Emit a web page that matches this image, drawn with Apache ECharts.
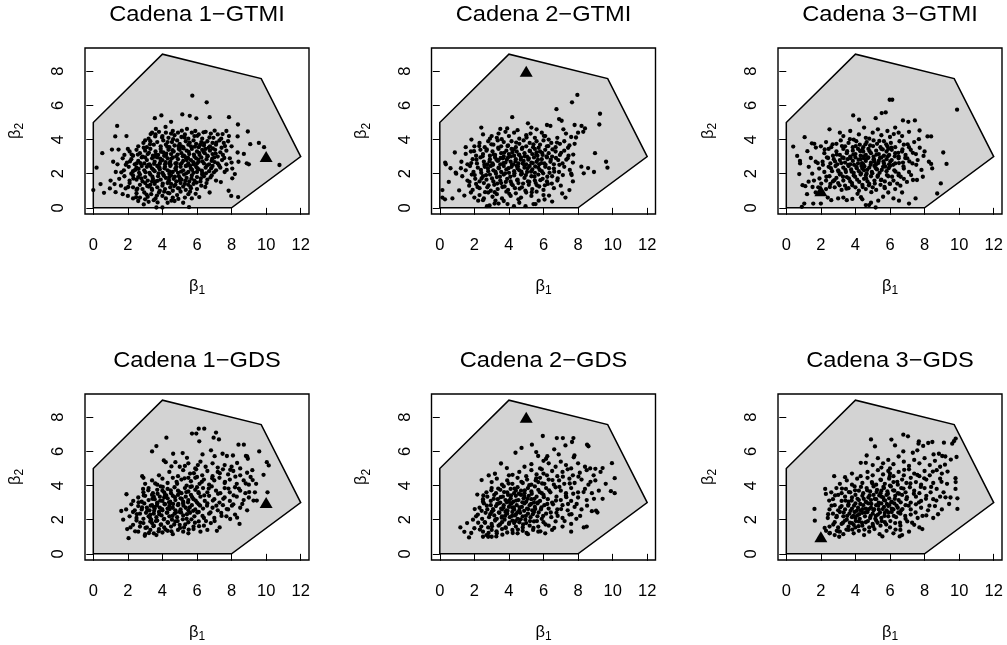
<!DOCTYPE html>
<html>
<head>
<meta charset="utf-8">
<script src="https://cdn.jsdelivr.net/npm/echarts@6/dist/echarts.min.js"></script>
<style>
html, body { margin: 0; padding: 0; background: #fff; }
#chart { width: 1007px; height: 645px; }
</style>
</head>
<body>
<div id="chart"></div>
<script>
// Feasible region (vertices of the polygon in the beta1-beta2 plane)
const regionVertices = [[0, 0], [0, 5], [4, 9], [68 / 7, 53 / 7], [12, 3], [8, 0]];

const panelTitles = ['Cadena 1\u2212GTMI', 'Cadena 2\u2212GTMI', 'Cadena 3\u2212GTMI',
                     'Cadena 1\u2212GDS', 'Cadena 2\u2212GDS', 'Cadena 3\u2212GDS'];
const xTicks = [0, 2, 4, 6, 8, 10, 12];
const yTicks = [0, 2, 4, 6, 8];

// Starting value of each chain
const startPoints = [[10, 3], [5, 8], [2, 1], [10, 3], [5, 8], [2, 1]];

// Samples, chain 1 - GTMI
const chain1Gtmi = [
[5.73,6.57],[6.56,6.18],[3.56,5.25],[3.94,5.41],[4.5,5.04],[5.15,5.47],[5.58,5.39],[5.96,5.24],[6.73,5.31],[7.85,5.31],
[1.38,4.8],[8.37,4.88],[8.94,4.47],[3.62,4.62],[4.18,4.74],
[3.4,4.4],[3.6,4.3],[3.8,4.45],[4.0,4.2],[4.2,4.4],[4.35,4.1],[4.5,4.35],[4.7,4.25],[4.9,4.4],[5.1,4.15],[5.3,4.3],[5.5,4.05],[5.7,4.4],[5.85,4.2],[6.1,4.3],[6.3,4.05],[6.5,4.45],[6.8,4.35],[6.95,4.1],[7.2,4.3],[7.4,4.05],[7.7,4.5],[7.85,4.2],[8.35,4.18],[1.27,4.18],[1.92,4.2],[3.2,4.05],[4.6,4.5],[5.9,4.5],
[2.6,3.6],[2.9,3.8],[3.1,3.55],[3.3,3.9],[3.5,3.7],[3.7,3.85],[3.9,3.6],[4.05,3.95],[4.2,3.7],[4.4,3.55],[4.55,3.85],[4.7,3.65],[4.85,3.95],[5.0,3.75],[5.2,3.55],[5.35,3.9],[5.5,3.7],[5.65,3.6],[5.8,3.95],[5.95,3.75],[6.1,3.55],[6.25,3.85],[6.4,3.65],[6.6,3.9],[6.75,3.6],[6.9,3.8],[7.1,3.7],[7.3,3.95],[7.55,3.8],[7.8,3.9],[8.0,3.6],[9.58,3.8],[9.88,3.55],[9.08,3.73],[3.0,3.95],[4.3,3.85],[5.1,3.6],
[0.52,3.2],[1.08,3.41],[1.46,3.41],[1.8,3.1],[2.1,3.3],[2.3,3.05],[2.5,3.4],[2.7,3.2],[2.85,3.0],[3.0,3.35],[3.15,3.15],[3.3,3.45],[3.45,3.05],[3.6,3.3],[3.75,3.1],[3.9,3.45],[4.05,3.25],[4.2,3.05],[4.35,3.4],[4.5,3.15],[4.65,3.3],[4.8,3.0],[4.95,3.45],[5.1,3.2],[5.25,3.05],[5.4,3.35],[5.55,3.15],[5.7,3.45],[5.85,3.0],[6.0,3.3],[6.15,3.1],[6.3,3.4],[6.45,3.2],[6.6,3.05],[6.75,3.35],[6.9,3.15],[7.05,3.4],[7.2,3.0],[7.35,3.25],[7.5,3.1],[7.7,3.35],[8.35,3.24],[8.71,3.16],[2.0,3.45],[4.1,3.05],[5.0,3.4],[6.5,3.45],[3.55,3.0],
[1.15,2.7],[1.4,2.55],[1.7,2.9],[1.95,2.65],[2.2,2.85],[2.4,2.55],[2.6,2.75],[2.8,2.95],[2.95,2.6],[3.1,2.8],[3.25,2.55],[3.4,2.9],[3.55,2.7],[3.7,2.95],[3.85,2.6],[4.0,2.8],[4.15,2.55],[4.3,2.9],[4.45,2.7],[4.6,2.95],[4.75,2.6],[4.9,2.85],[5.05,2.55],[5.2,2.75],[5.35,2.95],[5.5,2.6],[5.65,2.8],[5.8,2.55],[5.95,2.9],[6.1,2.7],[6.25,2.95],[6.4,2.6],[6.55,2.85],[6.7,2.55],[6.85,2.75],[7.0,2.95],[7.2,2.6],[7.45,2.8],[7.7,2.55],[8.0,2.65],[8.4,2.7],[8.88,2.61],[9.0,2.55],[3.0,2.95],[3.9,2.75],[4.4,2.6],[5.4,2.8],[6.0,2.6],[2.5,2.6],[7.9,2.9],
[0.19,2.35],[1.3,2.1],[1.77,2.2],[2.05,2.4],[2.3,2.15],[2.5,2.35],[2.65,2.05],[2.8,2.45],[2.95,2.2],[3.1,2.4],[3.25,2.05],[3.4,2.3],[3.55,2.15],[3.7,2.45],[3.85,2.25],[4.0,2.05],[4.15,2.4],[4.3,2.2],[4.45,2.45],[4.6,2.1],[4.75,2.3],[4.9,2.05],[5.05,2.4],[5.2,2.2],[5.35,2.45],[5.5,2.1],[5.65,2.3],[5.8,2.05],[5.95,2.4],[6.1,2.25],[6.3,2.05],[6.5,2.35],[6.7,2.15],[6.9,2.45],[7.1,2.2],[7.35,2.35],[7.6,2.1],[8.04,2.3],[8.19,1.98],[10.77,2.51],[3.3,2.45],[4.4,2.0],[5.6,2.45],[6.0,2.1],[2.2,2.0],[3.8,2.35],[4.8,2.4],
[1.0,1.6],[1.5,1.7],[1.8,1.85],[2.1,1.6],[2.3,1.9],[2.5,1.65],[2.7,1.95],[2.85,1.55],[3.0,1.8],[3.15,1.6],[3.3,1.95],[3.45,1.7],[3.6,1.55],[3.75,1.85],[3.9,1.65],[4.05,1.95],[4.2,1.75],[4.35,1.55],[4.5,1.9],[4.65,1.7],[4.8,1.55],[4.95,1.85],[5.1,1.65],[5.25,1.95],[5.4,1.75],[5.55,1.55],[5.7,1.9],[5.85,1.6],[6.0,1.8],[6.2,1.55],[6.4,1.85],[6.6,1.65],[6.85,1.9],[7.1,1.6],[7.38,1.51],[8.04,1.73],[2.6,1.8],[3.4,1.55],[4.4,1.8],[5.0,1.6],[6.3,1.95],
[0.0,1.04],[0.42,1.39],[0.96,1.14],[1.23,1.39],[1.6,1.3],[1.87,1.14],[2.1,1.45],[2.3,1.2],[2.5,1.05],[2.7,1.35],[2.85,1.1],[3.0,1.45],[3.2,1.25],[3.4,1.05],[3.55,1.4],[3.7,1.2],[3.85,1.0],[4.0,1.3],[4.15,1.1],[4.3,1.45],[4.45,1.2],[4.6,1.0],[4.75,1.35],[4.9,1.15],[5.05,1.45],[5.2,1.25],[5.35,1.05],[5.5,1.35],[5.65,1.15],[5.8,1.4],[6.0,1.1],[6.25,1.3],[6.55,1.45],[7.83,1.0],[3.3,1.35],[4.5,1.4],[5.3,1.4],
[0.62,0.88],[1.29,0.92],[1.7,0.8],[2.0,0.7],[2.3,0.55],[2.5,0.85],[2.7,0.6],[2.95,0.9],[3.15,0.65],[3.35,0.8],[3.6,0.55],[3.8,0.9],[4.0,0.7],[4.2,0.55],[4.4,0.85],[4.6,0.6],[4.85,0.75],[5.05,0.95],[5.3,0.6],[5.5,0.8],[5.7,0.55],[6.13,0.63],[6.73,0.9],[7.98,0.7],[8.38,0.63],[3.0,0.5],[4.1,0.95],[5.6,0.95],
[2.92,0.2],[3.2,0.35],[3.65,0.02],[4.0,0.02],[4.3,0.3],[4.7,0.4],[5.54,0.04],[5.2,0.3],[3.5,0.45],[2.6,0.4],
[2.55,1.12],[2.78,1.72],[2.62,2.28],[2.72,2.62],[2.58,3.12],[2.92,3.52],[3.08,0.78],[3.12,1.28],[3.02,2.08],[3.18,2.52],[3.22,3.22],[3.28,3.72],[3.38,1.12],[3.42,1.82],[3.48,2.22],[3.52,2.58],[3.62,3.12],[3.68,0.72],[3.72,1.58],[3.78,2.02],[3.82,2.38],[3.88,2.88],[3.92,3.28],[3.98,4.12],[4.02,1.42],[4.08,1.88],[4.12,2.32],[4.18,2.68],[4.22,3.18],[4.28,3.58],[4.32,0.88],[4.38,1.62],[4.42,2.12],[4.48,2.52],[4.52,2.88],[4.58,3.38],[4.62,4.02],[4.68,1.28],[4.72,1.82],[4.78,2.22],[4.82,2.62],[4.88,3.12],[4.92,3.62],[4.98,1.12],[5.02,1.72],[5.08,2.12],[5.12,2.62],[5.18,3.02],[5.22,3.48],[5.28,4.12],[5.32,1.58],[5.38,2.02],[5.42,2.48],[5.48,2.92],[5.52,3.28],[5.58,3.82],[5.62,1.22],[5.68,1.72],[5.72,2.22],[5.78,2.68],[5.82,3.12],[5.88,3.58],[5.92,0.82],[5.98,1.48],[6.02,2.32],[6.08,2.82],[6.12,3.22],[6.18,3.68],[6.22,1.72],[6.28,2.18],[6.32,2.72],[6.38,3.28],[6.42,3.78],[6.48,1.22],[6.52,2.02],[6.58,2.48],[6.62,3.02],[6.68,3.52],[6.72,4.12],[6.78,1.78],[6.82,2.32],[6.88,2.88],[6.92,3.48],[6.98,2.08],[7.02,2.68],[7.08,3.18],[7.12,3.82],[7.28,2.48],[7.42,3.52],[7.58,2.92],[7.62,3.62],[7.72,2.22],[1.62,2.08],[1.88,2.52],[2.02,1.22],[2.12,2.72],[2.22,3.12],[2.32,1.72],[2.42,2.22],[2.48,0.62],[3.32,4.32],[3.58,4.18],[3.72,0.32],[4.52,0.42],[4.92,0.52],[5.12,4.52],[5.42,4.62],[6.02,4.22],[6.38,4.42],[7.02,4.52],[7.48,4.32]
];

// Samples, chain 2 - GTMI
const chain2Gtmi = [
[7.96,6.61],[7.65,6.18],[6.75,5.78],[9.27,5.51],[9.23,4.88],
[4.19,5.31],[2.4,4.7],[3.5,4.62],[3.9,4.65],[5.1,4.95],[5.3,4.7],[6.2,4.85],[6.4,4.8],[6.9,5.2],[7.05,5.1],[7.15,4.6],[7.8,4.85],[8.2,4.8],[8.4,4.65],[5.6,4.6],[4.5,4.55],
[1.83,4.0],[2.5,4.3],[3.3,4.1],[3.0,4.2],[3.4,4.35],[4.0,4.2],[4.3,4.4],[4.6,4.05],[5.0,4.25],[5.25,4.35],[5.5,4.1],[5.9,4.4],[6.1,4.2],[6.3,4.0],[6.8,4.1],[7.3,4.35],[7.6,4.15],[8.0,4.4],[8.3,4.45],[2.9,4.05],[3.8,4.45],
[2.0,3.6],[2.3,3.8],[2.6,3.55],[2.8,3.9],[3.1,3.7],[3.35,3.95],[3.55,3.6],[3.7,3.85],[3.95,3.65],[4.15,3.9],[4.4,3.55],[4.6,3.75],[4.85,3.95],[5.0,3.6],[5.2,3.8],[5.4,3.55],[5.6,3.9],[5.8,3.7],[6.0,3.95],[6.2,3.6],[6.45,3.8],[6.7,3.55],[6.95,3.75],[7.2,3.9],[7.5,3.65],[7.8,3.75],[1.5,3.55],
[0.87,3.24],[1.5,3.16],[1.8,3.3],[2.1,3.05],[2.35,3.4],[2.5,3.15],[2.7,3.35],[2.9,3.05],[3.05,3.3],[3.2,3.1],[3.4,3.45],[3.55,3.2],[3.7,3.0],[3.85,3.35],[4.0,3.15],[4.15,3.45],[4.3,3.05],[4.45,3.3],[4.6,3.1],[4.75,3.45],[4.9,3.2],[5.05,3.0],[5.2,3.35],[5.35,3.15],[5.5,3.45],[5.65,3.05],[5.8,3.3],[5.95,3.1],[6.1,3.4],[6.3,3.2],[6.5,3.0],[6.7,3.3],[6.95,3.1],[7.2,3.35],[7.45,3.05],[8.98,3.2],[4.2,3.25],[5.6,3.25],
[0.31,2.65],[0.35,2.55],[1.25,2.7],[1.6,2.55],[1.9,2.85],[2.15,2.6],[2.35,2.95],[2.55,2.7],[2.75,2.55],[2.9,2.85],[3.05,2.6],[3.2,2.95],[3.35,2.75],[3.5,2.55],[3.65,2.9],[3.8,2.65],[3.95,2.95],[4.1,2.7],[4.25,2.55],[4.4,2.85],[4.55,2.6],[4.7,2.95],[4.85,2.75],[5.0,2.55],[5.15,2.9],[5.3,2.65],[5.45,2.95],[5.6,2.7],[5.75,2.55],[5.9,2.85],[6.05,2.6],[6.2,2.95],[6.4,2.7],[6.6,2.55],[6.85,2.8],[7.1,2.6],[7.4,2.9],[7.7,2.65],[9.62,2.7],[4.8,2.6],[3.4,2.8],
[0.92,2.06],[0.95,2.0],[1.5,2.2],[1.75,2.45],[1.95,2.1],[2.2,2.35],[2.4,2.05],[2.6,2.4],[2.8,2.15],[2.95,2.45],[3.1,2.2],[3.25,2.0],[3.4,2.35],[3.55,2.1],[3.7,2.45],[3.85,2.25],[4.0,2.05],[4.15,2.4],[4.3,2.15],[4.45,2.45],[4.6,2.2],[4.75,2.0],[4.9,2.35],[5.05,2.1],[5.2,2.45],[5.35,2.25],[5.5,2.05],[5.7,2.35],[5.9,2.15],[6.1,2.4],[6.35,2.05],[6.6,2.3],[6.9,2.1],[7.2,2.4],[7.6,2.0],[8.19,2.41],[8.58,2.33],[8.33,2.02],[8.92,2.1],[9.7,2.35],[4.5,2.3],
[1.3,1.85],[1.6,1.6],[1.85,1.95],[2.05,1.7],[2.3,1.55],[2.5,1.85],[2.7,1.65],[2.9,1.95],[3.1,1.55],[3.3,1.8],[3.5,1.6],[3.7,1.95],[3.9,1.7],[4.1,1.55],[4.3,1.9],[4.5,1.65],[4.7,1.95],[4.9,1.75],[5.1,1.55],[5.3,1.85],[5.5,1.6],[5.7,1.95],[5.95,1.7],[6.2,1.55],[6.5,1.85],[6.8,1.6],[7.63,1.92],[7.7,1.55],
[1.7,1.3],[1.9,1.05],[2.1,1.4],[2.3,1.15],[2.55,1.45],[2.75,1.2],[2.95,1.0],[3.15,1.35],[3.35,1.1],[3.55,1.45],[3.75,1.25],[3.95,1.05],[4.15,1.4],[4.35,1.15],[4.55,1.45],[4.75,1.2],[4.95,1.0],[5.15,1.35],[5.35,1.1],[5.55,1.45],[5.75,1.25],[6.0,1.05],[6.25,1.4],[6.6,1.15],[7.5,1.04],[7.0,1.3],
[0.15,1.04],[0.15,0.6],[0.3,0.5],[0.73,0.55],[1.8,0.9],[2.0,0.6],[2.3,0.75],[2.55,0.55],[2.8,0.9],[3.05,0.65],[3.3,0.8],[3.6,0.55],[3.85,0.95],[4.1,0.7],[4.4,0.85],[4.7,0.6],[5.0,0.9],[5.3,0.7],[5.6,0.95],[6.06,0.49],[7.08,0.84],[7.27,0.6],[6.0,0.75],[4.55,0.5],
[2.73,0.1],[2.88,0.14],[3.17,0.25],[3.4,0.25],[4.29,0.1],[4.96,0.1],[5.42,0.22],[5.54,0.22],[6.5,0.37],[2.5,0.45],[3.7,0.4],[4.6,0.3],
[1.72,1.52],[1.82,2.62],[1.98,3.32],[2.02,1.92],[2.12,2.82],[2.18,1.22],[2.28,3.62],[2.38,2.22],[2.42,1.72],[2.48,3.02],[2.58,2.52],[2.62,0.92],[2.68,1.92],[2.72,3.42],[2.78,2.32],[2.82,1.32],[2.88,2.72],[2.98,3.72],[3.02,1.72],[3.08,2.52],[3.12,3.12],[3.18,0.92],[3.22,2.12],[3.28,2.82],[3.32,1.42],[3.38,3.52],[3.42,2.32],[3.48,1.82],[3.52,2.92],[3.58,4.02],[3.62,1.22],[3.68,2.62],[3.72,3.22],[3.78,2.02],[3.82,1.52],[3.88,2.82],[3.92,3.62],[3.98,2.32],[4.02,0.82],[4.08,1.82],[4.12,3.02],[4.18,2.52],[4.22,1.32],[4.28,3.42],[4.32,2.02],[4.38,2.72],[4.42,3.82],[4.48,1.62],[4.52,2.42],[4.58,3.12],[4.62,1.12],[4.68,2.82],[4.72,2.12],[4.78,3.52],[4.82,1.42],[4.88,2.52],[4.92,3.02],[4.98,1.92],[5.02,4.12],[5.08,2.32],[5.12,2.82],[5.18,1.52],[5.22,3.32],[5.28,2.12],[5.32,0.92],[5.38,2.62],[5.42,3.72],[5.48,1.82],[5.52,2.42],[5.58,3.12],[5.62,1.32],[5.68,2.82],[5.72,3.52],[5.78,2.22],[5.82,1.62],[5.88,2.62],[5.92,3.22],[5.98,2.02],[6.02,4.22],[6.08,1.32],[6.12,2.52],[6.18,3.02],[6.22,1.82],[6.28,3.62],[6.32,2.32],[6.42,2.82],[6.48,1.42],[6.52,3.42],[6.62,2.12],[6.72,2.92],[6.78,3.82],[6.82,1.72],[6.92,2.52],[7.02,3.22],[7.12,1.92],[7.32,2.82],[7.42,3.52],[7.52,2.22],[7.72,3.12],[7.88,4.12],[1.12,1.02],[1.22,2.32],[1.42,0.72],[0.52,1.52],[0.62,2.32],[2.22,0.42],[3.22,0.42],[3.92,0.22],[5.72,0.42],[6.32,0.72]
];

// Samples, chain 3 - GTMI
const chain3Gtmi = [
[5.98,6.33],[6.13,6.33],[9.88,5.75],[3.87,5.41],[4.21,5.16],[5.52,5.55],[5.75,5.59],[5.17,5.25],[6.75,5.12],[7.06,5.04],[7.44,5.12],[7.71,4.53],[8.17,4.18],[8.38,4.18],[7.67,4.02],[9.08,3.24],[9.27,2.57],[7.94,3.04],[8.25,2.7],[8.38,2.57],[8.44,2.31],[7.9,1.82],[7.56,1.63],[7.33,1.63],[8.94,1.43],[8.73,0.84],[7.1,0.25],[7.48,0.55],
[0.4,3.59],[0.63,3.04],[0.79,2.75],[0.8,2.6],[0.75,1.98],[1.06,4.14],[1.48,3.78],[1.62,3.75],[1.71,3.53],[0.94,1.33],[1.1,1.27],[0.9,0.06],[1.04,0.25],[1.29,1.53],[1.56,0.25],[2.0,0.25],[1.3,2.4],[1.5,2.0],[1.7,2.7],[1.9,2.3],[1.6,1.6],[1.85,1.2],[1.2,0.8],[1.7,0.9],
[4.6,0.16],[4.79,0.16],[5.17,0.02],[4.9,0.3],[4.4,0.5],[3.3,0.6],[3.5,0.45],[3.0,0.55],[2.4,0.6],[2.6,0.45],[5.6,0.65],[6.2,0.55],[6.7,0.9],[5.9,0.9],
[2.5,4.6],[3.1,4.4],[3.3,4.2],[3.7,4.5],[4.2,4.3],[4.5,4.7],[4.6,4.1],[5.0,4.4],[5.3,4.6],[5.5,4.25],[5.85,4.5],[6.0,4.15],[6.3,4.7],[6.5,4.4],[6.7,4.2],[7.1,4.45],[3.9,4.0],[4.8,4.05],
[2.0,3.6],[2.3,3.85],[2.6,3.55],[2.9,3.75],[3.15,3.95],[3.4,3.6],[3.6,3.8],[3.85,3.55],[4.05,3.9],[4.25,3.7],[4.45,3.55],[4.65,3.85],[4.85,3.65],[5.05,3.95],[5.25,3.75],[5.45,3.55],[5.65,3.9],[5.85,3.6],[6.05,3.8],[6.3,3.55],[6.55,3.9],[6.8,3.7],[7.1,3.55],[7.4,3.85],
[2.2,3.2],[2.45,3.45],[2.7,3.05],[2.9,3.3],[3.1,3.1],[3.3,3.45],[3.5,3.2],[3.7,3.0],[3.85,3.35],[4.0,3.15],[4.15,3.45],[4.3,3.05],[4.45,3.3],[4.6,3.1],[4.75,3.45],[4.9,3.2],[5.05,3.0],[5.2,3.35],[5.35,3.15],[5.5,3.45],[5.65,3.05],[5.8,3.3],[5.95,3.1],[6.1,3.4],[6.3,3.2],[6.5,3.0],[6.7,3.3],[6.9,3.1],[7.2,3.4],[7.5,3.15],[8.0,3.3],[4.4,3.4],[5.9,3.45],
[2.1,2.7],[2.35,2.95],[2.55,2.6],[2.75,2.85],[2.95,2.55],[3.1,2.8],[3.25,2.95],[3.4,2.65],[3.55,2.85],[3.7,2.55],[3.85,2.75],[4.0,2.95],[4.15,2.6],[4.3,2.85],[4.45,2.55],[4.6,2.75],[4.75,2.95],[4.9,2.65],[5.05,2.85],[5.2,2.55],[5.35,2.75],[5.5,2.95],[5.65,2.6],[5.8,2.85],[5.95,2.55],[6.1,2.8],[6.3,2.6],[6.5,2.9],[6.75,2.65],[7.0,2.9],[7.3,2.6],[7.6,2.8],[4.5,2.9],[5.1,2.7],
[2.2,2.1],[2.45,2.4],[2.65,2.15],[2.85,2.45],[3.0,2.2],[3.15,2.0],[3.3,2.35],[3.45,2.1],[3.6,2.45],[3.75,2.25],[3.9,2.05],[4.05,2.4],[4.2,2.15],[4.35,2.45],[4.5,2.2],[4.65,2.0],[4.8,2.35],[4.95,2.1],[5.1,2.45],[5.25,2.25],[5.4,2.05],[5.6,2.4],[5.8,2.15],[6.0,2.45],[6.25,2.2],[6.5,2.0],[6.8,2.3],[7.1,2.1],[4.4,2.3],
[2.3,1.6],[2.5,1.85],[2.7,1.55],[2.9,1.75],[3.1,1.95],[3.3,1.6],[3.5,1.8],[3.7,1.55],[3.9,1.9],[4.1,1.65],[4.3,1.95],[4.5,1.7],[4.7,1.55],[4.9,1.85],[5.1,1.6],[5.3,1.9],[5.5,1.65],[5.7,1.55],[5.9,1.85],[6.2,1.6],[6.5,1.9],[6.8,1.7],[4.6,1.9],
[2.3,1.1],[2.55,1.4],[2.8,1.2],[3.0,1.45],[3.2,1.05],[3.4,1.3],[3.6,1.15],[3.8,1.45],[4.0,1.2],[4.2,1.0],[4.4,1.35],[4.6,1.1],[4.8,1.4],[5.0,1.2],[5.2,1.05],[5.45,1.35],[5.7,1.15],[6.0,1.4],[6.3,1.1],[6.6,1.3],
[2.02,1.42],[2.12,2.52],[2.22,3.42],[2.32,1.82],[2.42,2.92],[2.52,1.22],[2.58,2.32],[2.68,3.72],[2.78,1.62],[2.82,2.72],[2.92,3.12],[3.02,2.12],[3.08,1.32],[3.18,2.62],[3.22,3.62],[3.28,1.82],[3.32,2.92],[3.42,2.22],[3.48,1.12],[3.52,3.32],[3.58,2.52],[3.62,1.72],[3.68,4.02],[3.72,2.92],[3.78,2.12],[3.82,1.32],[3.88,3.12],[3.92,2.52],[3.98,1.82],[4.02,3.62],[4.08,2.32],[4.12,0.82],[4.18,2.82],[4.22,1.52],[4.28,3.32],[4.32,2.02],[4.38,2.62],[4.42,1.22],[4.48,3.02],[4.52,2.42],[4.58,3.72],[4.62,1.72],[4.68,2.22],[4.72,2.92],[4.78,1.32],[4.82,3.32],[4.88,2.52],[4.92,0.92],[4.98,2.02],[5.02,3.62],[5.08,2.82],[5.12,1.42],[5.18,2.32],[5.22,3.12],[5.28,1.82],[5.32,2.62],[5.38,3.92],[5.42,2.92],[5.48,1.62],[5.52,2.22],[5.58,3.42],[5.62,2.72],[5.68,1.22],[5.72,2.42],[5.78,3.72],[5.82,1.92],[5.88,3.02],[5.92,2.32],[5.98,1.42],[6.02,2.72],[6.08,3.52],[6.12,1.82],[6.18,2.52],[6.22,4.32],[6.28,3.02],[6.32,2.12],[6.42,1.42],[6.48,3.22],[6.52,2.62],[6.62,1.82],[6.72,3.42],[6.78,2.42],[6.88,2.92],[6.98,1.52],[7.02,3.72],[7.12,2.72],[7.22,1.92],[7.32,3.22],[7.52,2.52],[7.72,3.52],[7.82,2.22],[1.42,2.92],[1.52,1.22],[1.82,2.62],[1.92,1.72],[1.22,3.32],[3.82,0.52],[4.32,0.62],[5.32,0.42],[6.52,0.42]
];

// Samples, chain 1 - GDS
const chain1Gds = [
[6.1,7.33],[6.42,7.33],[5.71,7.04],[5.96,7.04],[7.1,7.1],[6.96,6.8],[7.27,6.7],[6.13,6.59],[4.23,6.8],[3.65,6.31],[3.4,6.0],[8.4,6.39],[8.71,6.39],[9.6,6.0],[8.83,5.73],[8.94,5.57],[8.9,5.7],[10.04,5.37],[10.15,5.18],[4.08,5.47],[4.19,5.37],[4.75,5.37],[4.62,5.86],[5.17,5.9],[6.81,6.06],[7.48,5.86],[7.73,5.73],[8.08,5.76],[9.85,4.63],[9.42,4.1],[9.35,3.6],[9.27,3.12],[10.08,3.6],[9.46,3.12],
[1.62,2.51],[1.73,2.0],[1.92,3.49],[1.96,1.45],[2.04,0.92],[2.15,1.55],[2.31,3.1],[2.83,4.55],[2.9,4.45],[2.88,3.8],[2.98,1.06],[3.65,1.1],[7.15,1.35],[7.31,1.55],[8.46,1.75],[7.92,2.04],
[5.0,5.1],[5.5,5.3],[5.9,5.0],[6.2,5.4],[6.5,5.1],[6.9,5.3],[7.2,5.05],[7.6,5.2],[8.0,5.1],[8.5,5.0],[9.2,4.9],[5.3,5.15],[6.05,5.2],
[3.8,4.6],[4.4,4.8],[4.9,4.55],[5.2,4.9],[5.6,4.7],[5.95,4.95],[6.3,4.6],[6.6,4.85],[6.9,4.55],[7.2,4.8],[7.5,4.95],[7.8,4.65],[8.1,4.85],[8.5,4.6],[8.9,4.75],[9.1,4.5],[6.0,4.5],
[3.0,4.1],[3.4,4.3],[3.7,4.05],[4.0,4.4],[4.3,4.15],[4.6,4.45],[4.85,4.1],[5.1,4.35],[5.4,4.0],[5.65,4.25],[5.9,4.45],[6.15,4.1],[6.4,4.35],[6.7,4.05],[7.0,4.3],[7.3,4.45],[7.6,4.15],[7.9,4.35],[8.3,4.1],[8.7,4.3],[9.0,4.05],[5.5,4.45],
[2.9,3.6],[3.2,3.85],[3.45,3.55],[3.7,3.75],[3.9,3.95],[4.1,3.6],[4.3,3.8],[4.5,3.55],[4.7,3.9],[4.9,3.7],[5.1,3.55],[5.3,3.85],[5.5,3.65],[5.7,3.95],[5.9,3.75],[6.1,3.55],[6.35,3.85],[6.6,3.6],[6.85,3.95],[7.1,3.7],[7.35,3.55],[7.6,3.85],[7.9,3.6],[8.2,3.9],[8.5,3.7],[8.8,3.55],[4.0,3.7],[6.0,3.9],
[2.6,3.3],[2.8,3.05],[3.0,3.4],[3.2,3.15],[3.4,3.45],[3.55,3.2],[3.7,3.0],[3.85,3.35],[4.0,3.1],[4.15,3.45],[4.3,3.25],[4.45,3.05],[4.6,3.4],[4.75,3.15],[4.9,3.45],[5.05,3.25],[5.2,3.05],[5.35,3.35],[5.5,3.15],[5.65,3.45],[5.8,3.2],[6.0,3.0],[6.2,3.35],[6.45,3.1],[6.7,3.4],[7.0,3.2],[7.3,3.0],[7.6,3.3],[7.9,3.1],[8.3,3.35],[8.7,3.15],[9.0,3.3],[4.1,3.3],[3.5,3.35],
[1.9,2.6],[2.2,2.9],[2.4,2.55],[2.6,2.8],[2.8,2.6],[2.95,2.95],[3.1,2.7],[3.25,2.55],[3.4,2.85],[3.55,2.65],[3.7,2.95],[3.85,2.7],[4.0,2.55],[4.15,2.9],[4.3,2.65],[4.45,2.95],[4.6,2.7],[4.75,2.55],[4.9,2.85],[5.05,2.6],[5.2,2.95],[5.35,2.7],[5.5,2.55],[5.7,2.85],[5.9,2.6],[6.1,2.9],[6.35,2.65],[6.6,2.95],[6.9,2.7],[7.2,2.55],[7.5,2.85],[7.8,2.6],[8.1,2.9],[8.5,2.7],[8.9,2.55],[3.5,2.75],[4.4,2.8],
[2.1,2.2],[2.3,2.45],[2.5,2.1],[2.7,2.35],[2.9,2.05],[3.05,2.4],[3.2,2.2],[3.35,2.0],[3.5,2.35],[3.65,2.15],[3.8,2.45],[3.95,2.25],[4.1,2.05],[4.25,2.4],[4.4,2.2],[4.55,2.0],[4.7,2.35],[4.85,2.15],[5.0,2.45],[5.2,2.25],[5.4,2.05],[5.6,2.4],[5.85,2.2],[6.1,2.45],[6.4,2.1],[6.7,2.35],[7.0,2.1],[7.4,2.4],[7.7,2.2],[8.2,2.3],[3.3,2.3],
[2.3,1.7],[2.5,1.95],[2.7,1.6],[2.9,1.8],[3.1,1.55],[3.3,1.9],[3.5,1.65],[3.7,1.95],[3.9,1.7],[4.1,1.55],[4.3,1.85],[4.5,1.6],[4.75,1.9],[5.0,1.7],[5.25,1.55],[5.5,1.85],[5.8,1.6],[6.1,1.9],[6.4,1.65],[6.8,1.8],[3.4,1.8],
[2.6,1.3],[3.0,1.15],[3.3,1.4],[3.5,1.2],[3.8,1.45],[4.0,1.25],[4.3,1.35],[4.6,1.15],[4.9,1.4],[5.2,1.3],[5.5,1.2],[5.8,1.45],[6.2,1.3],[6.6,1.4],
[2.42,1.32],[2.52,2.32],[2.62,3.02],[2.72,1.82],[2.82,2.72],[2.92,3.42],[3.02,1.52],[3.12,2.52],[3.18,3.72],[3.22,1.22],[3.28,2.12],[3.32,2.82],[3.42,3.22],[3.48,1.62],[3.52,2.52],[3.58,4.12],[3.62,1.92],[3.68,2.82],[3.72,3.52],[3.78,1.32],[3.82,2.32],[3.88,3.12],[3.92,1.72],[3.98,2.62],[4.02,3.92],[4.08,2.02],[4.12,2.92],[4.18,1.42],[4.22,3.42],[4.28,2.42],[4.32,1.82],[4.38,3.02],[4.42,2.62],[4.48,3.72],[4.52,1.32],[4.58,2.22],[4.62,2.92],[4.68,1.72],[4.72,3.32],[4.78,2.42],[4.82,4.22],[4.88,1.92],[4.92,2.92],[4.98,3.62],[5.02,1.52],[5.08,2.42],[5.12,3.22],[5.18,2.02],[5.22,2.82],[5.28,4.42],[5.32,1.72],[5.38,3.62],[5.42,2.32],[5.48,3.02],[5.52,1.42],[5.58,2.72],[5.62,3.92],[5.68,2.02],[5.72,3.32],[5.78,2.52],[5.82,4.72],[5.88,1.82],[5.92,3.12],[6.02,2.42],[6.08,3.62],[6.12,1.62],[6.18,2.82],[6.28,4.22],[6.32,2.22],[6.42,3.42],[6.52,1.92],[6.58,2.82],[6.68,3.82],[6.78,2.42],[6.88,4.42],[6.92,3.12],[7.02,1.92],[7.12,2.82],[7.22,3.52],[7.32,4.72],[7.42,2.22],[7.52,3.22],[7.62,4.22],[7.72,2.62],[7.82,3.82],[7.92,4.92],[8.02,2.82],[8.12,3.42],[8.22,4.52],[8.32,2.12],[8.42,3.82],[8.62,2.92],[8.82,4.12],[9.02,3.62],[9.22,4.32],[5.42,5.62],[6.32,5.82],[7.02,5.72],[4.52,5.12],[8.32,5.32]
];

// Samples, chain 2 - GDS
const chain2Gds = [
[5.96,6.9],[6.77,6.78],[7.12,6.78],[7.73,6.78],[7.65,6.55],[7.27,6.35],[5.33,6.39],[4.73,6.2],[4.38,5.92],[5.58,5.96],[5.69,5.73],[6.15,5.57],[6.88,5.82],[7.79,5.76],[7.75,5.65],[8.52,6.39],[8.6,6.3],[3.54,5.29],[3.88,5.02],[4.21,4.63],[9.96,5.31],[9.42,5.02],[9.0,4.98],[10.12,4.43],[9.9,3.67],[10.12,3.55],[9.42,3.22],[9.04,2.53],[8.8,2.5],[8.33,1.55],[8.5,1.6],
[1.19,1.55],[1.42,1.29],[1.69,0.96],[1.58,1.8],[1.92,2.0],[2.17,3.47],[2.5,3.2],[2.83,4.59],[3.19,4.69],[2.5,1.0],[2.8,1.0],[3.0,1.0],[3.27,1.02],[2.1,2.2],[2.0,1.5],
[4.9,5.1],[5.3,5.25],[5.8,5.0],[6.3,5.3],[6.7,5.1],[7.0,5.4],[7.3,5.2],[7.6,5.0],[8.0,5.3],[8.4,5.1],[8.7,5.0],[6.0,5.45],
[4.0,4.6],[4.6,4.8],[5.0,4.55],[5.3,4.9],[5.6,4.65],[5.9,4.95],[6.2,4.6],[6.5,4.85],[6.8,4.55],[7.1,4.8],[7.4,4.95],[7.7,4.6],[8.1,4.75],[8.5,4.9],[8.9,4.6],[9.3,4.8],[6.0,4.7],
[3.0,4.2],[3.3,4.4],[3.6,4.05],[3.9,4.3],[4.2,4.1],[4.5,4.45],[4.8,4.15],[5.05,4.35],[5.3,4.05],[5.55,4.3],[5.8,4.45],[6.05,4.1],[6.3,4.35],[6.6,4.05],[6.9,4.3],[7.2,4.1],[7.5,4.4],[7.8,4.15],[8.2,4.35],[8.6,4.05],[9.0,4.3],[9.6,4.1],[5.7,4.2],
[2.7,3.6],[3.0,3.85],[3.25,3.55],[3.5,3.75],[3.7,3.95],[3.9,3.6],[4.1,3.8],[4.3,3.55],[4.5,3.9],[4.7,3.7],[4.9,3.55],[5.1,3.85],[5.3,3.65],[5.5,3.95],[5.7,3.75],[5.9,3.55],[6.15,3.85],[6.4,3.6],[6.7,3.9],[7.0,3.7],[7.3,3.55],[7.6,3.85],[8.0,3.6],[8.4,3.8],[8.8,3.55],[9.2,3.7],[4.4,3.7],
[2.5,3.05],[2.75,3.35],[2.95,3.1],[3.15,3.45],[3.35,3.2],[3.5,3.0],[3.65,3.35],[3.8,3.15],[3.95,3.45],[4.1,3.25],[4.25,3.05],[4.4,3.4],[4.55,3.15],[4.7,3.45],[4.85,3.25],[5.0,3.05],[5.15,3.4],[5.3,3.2],[5.45,3.0],[5.6,3.35],[5.8,3.1],[6.0,3.45],[6.25,3.2],[6.5,3.0],[6.75,3.35],[7.0,3.15],[7.3,3.4],[7.6,3.1],[8.0,3.3],[8.5,3.15],[4.0,3.1],[4.9,3.35],
[2.3,2.7],[2.55,2.95],[2.75,2.6],[2.95,2.85],[3.1,2.55],[3.25,2.8],[3.4,2.95],[3.55,2.65],[3.7,2.85],[3.85,2.55],[4.0,2.75],[4.15,2.95],[4.3,2.6],[4.45,2.85],[4.6,2.55],[4.75,2.75],[4.9,2.95],[5.05,2.65],[5.2,2.85],[5.35,2.55],[5.5,2.75],[5.65,2.95],[5.85,2.6],[6.05,2.85],[6.3,2.65],[6.55,2.9],[6.8,2.6],[7.1,2.85],[7.4,2.55],[7.8,2.75],[8.2,2.6],[4.2,2.7],[3.6,2.6],
[2.2,2.3],[2.45,2.05],[2.65,2.4],[2.85,2.15],[3.0,2.45],[3.15,2.25],[3.3,2.05],[3.45,2.4],[3.6,2.2],[3.75,2.0],[3.9,2.35],[4.05,2.15],[4.2,2.45],[4.35,2.25],[4.5,2.05],[4.65,2.4],[4.8,2.2],[4.95,2.0],[5.1,2.35],[5.25,2.15],[5.45,2.45],[5.65,2.2],[5.9,2.05],[6.15,2.35],[6.45,2.15],[6.75,2.4],[7.1,2.1],[7.5,2.3],[7.9,2.05],[4.4,2.3],[3.8,2.45],
[2.4,1.6],[2.6,1.85],[2.8,1.55],[3.0,1.75],[3.2,1.95],[3.4,1.65],[3.6,1.85],[3.8,1.55],[4.0,1.75],[4.2,1.95],[4.4,1.6],[4.6,1.85],[4.8,1.55],[5.0,1.8],[5.2,1.65],[5.45,1.9],[5.7,1.6],[6.0,1.85],[6.3,1.65],[6.7,1.9],[7.1,1.6],[7.6,1.75],[4.3,1.8],
[2.5,1.3],[2.7,1.1],[3.0,1.4],[3.3,1.2],[3.6,1.45],[3.9,1.25],[4.2,1.4],[4.5,1.2],[4.8,1.35],[5.1,1.15],[5.4,1.4],[5.7,1.3],[6.1,1.2],[6.5,1.4],[7.6,1.3],
[2.32,1.42],[2.42,2.52],[2.52,3.42],[2.62,1.82],[2.72,2.82],[2.82,1.22],[2.92,2.32],[2.98,3.72],[3.02,1.62],[3.08,2.62],[3.12,3.22],[3.22,2.02],[3.28,1.32],[3.32,2.92],[3.38,3.82],[3.42,2.42],[3.48,1.72],[3.52,3.32],[3.58,2.12],[3.62,1.12],[3.68,2.72],[3.72,3.62],[3.78,2.22],[3.82,1.52],[3.88,3.02],[3.92,2.52],[3.98,4.12],[4.02,1.82],[4.08,2.92],[4.12,3.42],[4.18,2.22],[4.22,1.22],[4.28,2.72],[4.32,3.82],[4.38,1.92],[4.42,3.12],[4.48,2.42],[4.52,1.42],[4.58,3.52],[4.62,2.72],[4.68,2.02],[4.72,4.22],[4.78,3.02],[4.82,1.72],[4.88,2.52],[4.92,3.72],[4.98,2.22],[5.02,1.22],[5.08,3.22],[5.12,2.62],[5.18,4.02],[5.22,1.92],[5.28,2.92],[5.32,3.52],[5.38,2.32],[5.42,1.52],[5.48,3.22],[5.52,2.62],[5.58,4.42],[5.62,1.92],[5.68,3.02],[5.72,2.42],[5.78,3.62],[5.82,1.32],[5.88,2.72],[5.92,4.12],[5.98,2.22],[6.02,3.32],[6.12,1.72],[6.22,2.92],[6.32,3.72],[6.42,2.42],[6.52,4.32],[6.62,1.52],[6.72,3.12],[6.82,2.22],[6.92,3.92],[7.02,2.62],[7.12,4.52],[7.22,1.92],[7.32,3.32],[7.42,2.92],[7.52,4.12],[7.62,2.32],[7.72,3.52],[7.92,2.92],[8.02,4.52],[8.12,2.22],[8.32,3.62],[8.52,2.82],[8.72,4.22],[8.92,3.22],[9.12,2.42],[1.82,1.22],[2.02,2.62],[2.22,1.82],[2.42,4.32],[6.22,5.72],[6.62,6.12]
];

// Samples, chain 3 - GDS
const chain3Gds = [
[6.77,6.98],[7.04,6.88],[4.9,6.7],[6.08,6.69],[7.67,6.59],[7.65,6.45],[8.21,6.49],[8.45,6.55],[9.12,6.51],[9.6,6.45],[9.8,6.75],[9.7,6.6],[5.13,6.29],[6.29,6.35],[6.77,6.0],[7.58,6.06],[8.83,5.86],[9.02,5.73],[9.2,5.7],[9.85,5.67],[4.65,5.76],[4.31,5.33],[4.6,5.33],[9.33,4.82],[9.79,4.43],[9.8,4.2],[9.79,3.8],[9.9,3.25],[9.9,2.63],[9.5,3.3],[9.21,3.31],
[1.63,2.63],[1.65,1.94],[2.25,3.8],[2.29,3.51],[2.48,3.12],[2.77,4.55],[3.4,4.49],[2.92,1.35],[3.06,1.0],[5.56,1.02],[6.56,1.02],[6.7,1.1],[7.87,1.45],[2.3,1.35],[2.5,1.2],
[5.0,5.2],[5.3,5.6],[5.6,5.3],[5.9,5.5],[6.2,5.25],[6.5,5.7],[6.8,5.4],[7.1,5.15],[7.4,5.5],[7.7,5.3],[8.0,5.6],[8.3,5.2],[8.6,5.45],[8.9,5.1],[5.5,5.05],[6.0,5.0],
[3.8,4.7],[4.3,4.55],[4.7,4.8],[5.0,4.6],[5.3,4.9],[5.6,4.65],[5.9,4.85],[6.2,4.55],[6.5,4.8],[6.8,4.6],[7.1,4.95],[7.4,4.7],[7.7,4.55],[8.0,4.85],[8.3,4.6],[8.7,4.9],[9.0,4.7],[6.0,4.7],
[3.1,4.1],[3.5,4.3],[3.8,4.05],[4.1,4.4],[4.4,4.15],[4.7,4.45],[4.95,4.2],[5.2,4.05],[5.45,4.35],[5.7,4.1],[5.95,4.4],[6.2,4.2],[6.45,4.05],[6.7,4.35],[6.95,4.15],[7.2,4.45],[7.5,4.2],[7.8,4.05],[8.1,4.35],[8.5,4.15],[8.9,4.4],[9.3,4.1],[6.0,4.0],
[2.6,3.6],[2.9,3.85],[3.2,3.55],[3.45,3.8],[3.7,3.6],[3.95,3.95],[4.2,3.7],[4.45,3.55],[4.65,3.85],[4.85,3.65],[5.05,3.95],[5.25,3.75],[5.45,3.55],[5.65,3.85],[5.85,3.65],[6.05,3.95],[6.25,3.7],[6.45,3.55],[6.65,3.85],[6.9,3.6],[7.15,3.9],[7.4,3.7],[7.7,3.55],[8.0,3.85],[8.35,3.6],[8.7,3.8],[9.1,3.6],[5.5,3.7],
[2.7,3.2],[3.0,3.45],[3.2,3.1],[3.4,3.35],[3.6,3.05],[3.8,3.3],[4.0,3.45],[4.2,3.15],[4.4,3.4],[4.6,3.05],[4.75,3.3],[4.9,3.15],[5.05,3.45],[5.2,3.2],[5.35,3.0],[5.5,3.35],[5.65,3.15],[5.8,3.45],[5.95,3.25],[6.1,3.05],[6.3,3.4],[6.5,3.15],[6.7,3.45],[6.95,3.2],[7.2,3.0],[7.5,3.35],[7.8,3.1],[8.1,3.4],[8.5,3.2],[8.9,3.35],[5.6,3.3],
[2.5,2.6],[2.8,2.85],[3.0,2.55],[3.2,2.8],[3.4,2.6],[3.6,2.9],[3.8,2.65],[4.0,2.95],[4.15,2.7],[4.3,2.55],[4.45,2.85],[4.6,2.65],[4.75,2.95],[4.9,2.7],[5.05,2.55],[5.2,2.85],[5.35,2.6],[5.5,2.95],[5.65,2.75],[5.8,2.55],[5.95,2.85],[6.1,2.65],[6.25,2.95],[6.45,2.7],[6.65,2.55],[6.9,2.85],[7.2,2.6],[7.5,2.9],[7.8,2.7],[8.2,2.55],[8.6,2.8],[9.0,2.6],[5.9,2.8],[6.2,2.6],
[2.4,2.1],[2.7,2.35],[2.9,2.15],[3.1,2.45],[3.3,2.2],[3.5,2.0],[3.65,2.35],[3.8,2.15],[3.95,2.45],[4.1,2.25],[4.25,2.05],[4.4,2.4],[4.55,2.2],[4.7,2.45],[4.85,2.1],[5.0,2.35],[5.15,2.05],[5.3,2.3],[5.5,2.1],[5.7,2.4],[5.9,2.2],[6.1,2.45],[6.35,2.15],[6.6,2.35],[6.9,2.05],[7.2,2.3],[7.6,2.1],[8.1,2.25],[8.5,2.1],[4.0,2.1],
[2.5,1.6],[2.8,1.85],[3.0,1.55],[3.2,1.75],[3.4,1.95],[3.6,1.6],[3.8,1.8],[4.0,1.55],[4.2,1.9],[4.4,1.65],[4.6,1.85],[4.8,1.55],[5.0,1.75],[5.2,1.95],[5.45,1.65],[5.7,1.85],[6.0,1.55],[6.3,1.8],[6.6,1.65],[7.0,1.9],[7.4,1.7],[7.7,1.55],[3.9,1.7],
[2.8,1.1],[3.1,1.3],[3.3,1.15],[3.6,1.4],[3.9,1.2],[4.2,1.35],[4.5,1.1],[4.8,1.3],[5.1,1.45],[5.4,1.15],[5.8,1.35],[6.2,1.2],[6.6,1.4],[7.1,1.3],
[2.22,1.52],[2.42,2.32],[2.52,1.22],[2.62,2.82],[2.72,1.72],[2.82,3.42],[2.92,2.22],[3.02,1.32],[3.12,2.72],[3.22,3.82],[3.28,1.82],[3.32,2.42],[3.42,3.12],[3.48,1.42],[3.52,2.22],[3.58,2.82],[3.62,3.62],[3.68,1.82],[3.72,2.52],[3.78,3.12],[3.82,1.42],[3.88,2.22],[3.92,2.82],[3.98,3.72],[4.02,1.92],[4.08,2.52],[4.12,3.22],[4.18,1.62],[4.22,2.32],[4.28,2.92],[4.32,3.92],[4.38,1.82],[4.42,2.62],[4.48,3.22],[4.52,1.42],[4.58,2.42],[4.62,3.02],[4.68,3.72],[4.72,1.92],[4.78,2.62],[4.82,3.42],[4.88,2.22],[4.92,2.92],[4.98,4.12],[5.02,1.62],[5.08,2.62],[5.12,3.22],[5.18,2.22],[5.22,3.62],[5.28,1.82],[5.32,2.82],[5.38,3.42],[5.42,2.42],[5.48,4.32],[5.52,1.92],[5.58,2.62],[5.62,3.92],[5.68,2.22],[5.72,3.12],[5.78,1.72],[5.82,2.92],[5.88,3.52],[5.92,2.42],[5.98,4.52],[6.02,1.92],[6.08,3.02],[6.12,2.62],[6.18,3.72],[6.22,2.22],[6.28,3.22],[6.32,1.42],[6.38,2.82],[6.42,4.22],[6.48,2.42],[6.52,3.52],[6.58,1.82],[6.62,3.02],[6.72,2.62],[6.78,3.82],[6.82,4.92],[6.88,2.22],[6.98,3.32],[7.08,2.82],[7.18,4.12],[7.28,1.82],[7.38,3.52],[7.48,2.42],[7.58,4.62],[7.68,3.02],[7.78,3.92],[7.88,2.22],[7.98,4.42],[8.08,3.22],[8.28,2.82],[8.38,3.92],[8.48,4.82],[8.68,3.12],[8.78,2.32],[8.98,4.22],[9.18,5.22],[9.42,2.92],[9.52,5.52],[8.52,5.82],[7.92,6.32],[7.32,5.92]
];

const chains = [chain1Gtmi, chain2Gtmi, chain3Gtmi, chain1Gds, chain2Gds, chain3Gds];

// ---- layout ----
const FONT = '"Liberation Sans", Arial, Helvetica, sans-serif';
const colLeft = [85, 431.5, 778];
const rowTop = [48, 394];
const boxW = 224, boxH = 166;
const xRange = [-0.48, 12.48];
const yRange = [-0.36, 9.36];
const AXIS_FONT = 16.5;

const grids = [], xAxes = [], yAxes = [], series = [], graphics = [];

const nameRich = {
  b: { fontSize: AXIS_FONT, fontFamily: FONT, color: '#000', lineHeight: 22, verticalAlign: 'middle' },
  s: { fontSize: 12, fontFamily: FONT, color: '#000', lineHeight: 22, verticalAlign: 'bottom' }
};

chains.forEach((pts, i) => {
  const col = i % 3, row = Math.floor(i / 3);
  const left = colLeft[col], top = rowTop[row];
  grids.push({
    left: left, top: top, width: boxW, height: boxH,
    show: true, borderColor: '#000', borderWidth: 1.4, backgroundColor: '#fff'
  });
  xAxes.push({
    gridIndex: i, type: 'value', min: xRange[0], max: xRange[1],
    splitLine: { show: false }, axisLine: { show: false },
    axisTick: { show: true, inside: false, length: 7, customValues: xTicks,
                lineStyle: { color: '#000', width: 1 } },
    axisLabel: { customValues: xTicks, margin: 23, color: '#000', fontSize: AXIS_FONT, fontFamily: FONT },
    name: '{b|\u03b2}{s|1}', nameLocation: 'middle', nameGap: 61,
    nameTextStyle: { rich: nameRich }
  });
  yAxes.push({
    gridIndex: i, type: 'value', min: yRange[0], max: yRange[1],
    splitLine: { show: false }, axisLine: { show: false },
    axisTick: { show: true, inside: false, length: 7, customValues: yTicks,
                lineStyle: { color: '#000', width: 1 } },
    axisLabel: { customValues: yTicks, rotate: 90, margin: 18, color: '#000', fontSize: AXIS_FONT, fontFamily: FONT },
    name: '{b|\u03b2}{s|2}', nameLocation: 'middle', nameGap: 59, nameRotate: 90,
    nameTextStyle: { rich: nameRich }
  });
  // shaded feasible region
  series.push({
    type: 'custom', xAxisIndex: i, yAxisIndex: i, silent: true, z: 1,
    data: [regionVertices[0]],
    renderItem: (params, api) => ({
      type: 'polygon',
      shape: { points: regionVertices.map(v => api.coord(v)) },
      style: { fill: '#d3d3d3', stroke: '#000', lineWidth: 1.5 }
    })
  });
  // posterior draws
  series.push({
    type: 'scatter', xAxisIndex: i, yAxisIndex: i, z: 2,
    symbol: 'circle', symbolSize: 4.3,
    itemStyle: { color: '#000', opacity: 1 },
    data: pts
  });
  // starting point
  series.push({
    type: 'scatter', xAxisIndex: i, yAxisIndex: i, z: 3,
    symbol: 'triangle', symbolSize: [13, 11],
    itemStyle: { color: '#000', opacity: 1 },
    data: [startPoints[i]]
  });
  graphics.push({
    type: 'text', x: left + boxW / 2, y: top - 33, scaleX: 1.1, originX: 0, originY: 0,
    style: { text: panelTitles[i], font: '21.5px ' + FONT, fill: '#000',
             textAlign: 'center', textVerticalAlign: 'middle' }
  });
});

const chart = echarts.init(document.getElementById('chart'), null, { renderer: 'canvas' });
chart.setOption({
  animation: false,
  backgroundColor: '#fff',
  grid: grids,
  xAxis: xAxes,
  yAxis: yAxes,
  series: series,
  graphic: graphics
});
</script>
</body>
</html>
